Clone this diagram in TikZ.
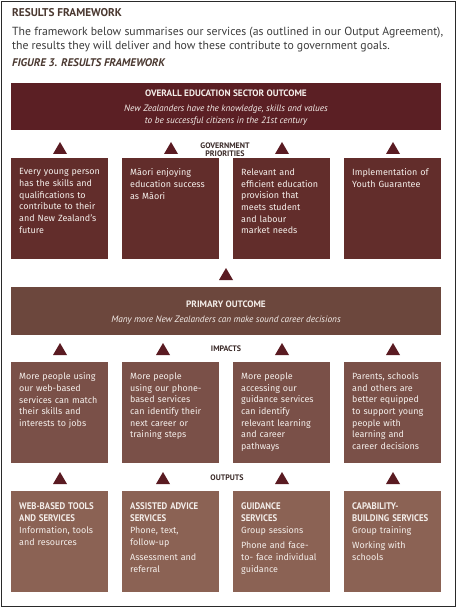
\documentclass[tikz,border=0pt]{standalone}
\usepackage{fontspec}
\setmainfont{PT Sans}
\newfontfamily\boxfont{Fira Sans}
\newfontfamily\hdfont{PT Sans}[FakeStretch=0.92]
\usetikzlibrary{calc}
\definecolor{cTop}{HTML}{5B1F24}
\definecolor{cGov}{HTML}{622D2B}
\definecolor{cPrim}{HTML}{6C473D}
\definecolor{cImp}{HTML}{7A5048}
\definecolor{cOut}{HTML}{8B6254}
\definecolor{cTri}{HTML}{5A1B22}
\definecolor{cBoxTxt}{HTML}{F4EEEA}
\definecolor{cHead}{HTML}{4A3830}
\definecolor{cBody}{HTML}{3C3C3C}
\definecolor{cLbl}{HTML}{3A2A28}
\definecolor{cFrame}{HTML}{2A2A2A}
\newcommand\uptri[2]{\fill[cTri] ($(#1,#2)+(-7,0)$) -- ($(#1,#2)+(7,0)$) -- ($(#1,#2)+(0,-12)$) -- cycle;}
\newcommand\hd[1]{{\hdfont\bfseries\fontsize{9.6}{12.3}\selectfont #1}}
\begin{document}
\begin{tikzpicture}[x=1bp,y=-1bp,
  box/.style={draw=none,inner sep=0pt,anchor=north west,minimum width=97bp,minimum height=101bp},
  wide/.style={draw=none,inner sep=0pt,anchor=north west,minimum width=430bp},
  btxt/.style={anchor=north west,inner sep=0pt,text width=100bp,align=left,text=cBoxTxt,font=\boxfont\fontsize{9}{11.7}\selectfont},
  otxt/.style={btxt,font=\boxfont\fontsize{9}{12.3}\selectfont},
  lbl/.style={inner sep=0pt,align=center,text=cLbl,font=\bfseries\fontsize{8}{8.5}\selectfont},
  ctr/.style={inner sep=0pt,anchor=base,text=cBoxTxt}]
\useasboundingbox (0,0) rectangle (457,608);
\draw[cFrame,line width=1.2bp] (1.5,1.5) rectangle (455.3,606.3);

% intro
\node[anchor=base west,inner sep=0pt,text=cHead,font=\bfseries\fontsize{11.3}{12}\selectfont] (title) at (12,17) {RESULTS FRAMEWORK};
\node[anchor=base west,inner sep=0pt,text=cBody,font=\fontsize{11.8}{14}\selectfont] (intro1) at (12,36) {The framework below summarises our services (as outlined in our Output Agreement),};
\node[anchor=base west,inner sep=0pt,text=cBody,font=\fontsize{11.8}{14}\selectfont] (intro2) at (12,50) {the results they will deliver and how these contribute to government goals.};
\node[anchor=base west,inner sep=0pt,text=cHead,font=\bfseries\itshape\fontsize{11.1}{12}\selectfont] (fig) at (12,67) {FIGURE 3. RESULTS FRAMEWORK};

% top outcome
\node[wide,fill=cTop,minimum height=47bp] (top) at (11,83) {};
\node[ctr,font=\bfseries\fontsize{9.3}{11}\selectfont] (topT) at (226,97) {OVERALL EDUCATION SECTOR OUTCOME};
\node[ctr,font=\itshape\fontsize{9.3}{11}\selectfont] (topA) at (226,112) {New Zealanders have the knowledge, skills and values};
\node[ctr,font=\itshape\fontsize{9.3}{11}\selectfont] (topB) at (226,123.5) {to be successful citizens in the 21st century};

% government priorities
\node[lbl,anchor=north] (govL) at (225,142.3) {GOVERNMENT\\PRIORITIES};
\uptri{60}{154}\uptri{171}{154}\uptri{282}{154}\uptri{393}{154}
\node[box,fill=cGov] (g1) at (11,158) {};
\node[box,fill=cGov] (g2) at (122,158) {};
\node[box,fill=cGov] (g3) at (233,158) {};
\node[box,fill=cGov] (g4) at (344,158) {};
\node[btxt] (g1t) at ($(g1.north west)+(8,10.5)$) {Every young person\\has the skills and\\qualifications to\\contribute to their\\and New Zealand’s\\future};
\node[btxt] (g2t) at ($(g2.north west)+(8,10.5)$) {Māori enjoying\\education success\\as Māori};
\node[btxt] (g3t) at ($(g3.north west)+(8,10.5)$) {Relevant and\\efficient education\\provision that\\meets student\\and labour\\market needs};
\node[btxt] (g4t) at ($(g4.north west)+(8,10.5)$) {Implementation of\\Youth Guarantee};

% primary outcome
\uptri{226}{280}
\node[wide,fill=cPrim,minimum height=48bp] (prim) at (11,287) {};
\node[ctr,font=\bfseries\fontsize{9.3}{11}\selectfont] (primT) at (226,307) {PRIMARY OUTCOME};
\node[ctr,font=\itshape\fontsize{9.3}{11}\selectfont] (primA) at (226,322) {Many more New Zealanders can make sound career decisions};

% impacts
\node[lbl,anchor=base] (impL) at (226,351.5) {IMPACTS};
\uptri{60}{355}\uptri{163}{355}\uptri{282}{355}\uptri{393}{355}
\node[box,fill=cImp] (i1) at (11,362) {};
\node[box,fill=cImp] (i2) at (122,362) {};
\node[box,fill=cImp] (i3) at (233,362) {};
\node[box,fill=cImp] (i4) at (344,362) {};
\node[btxt] (i1t) at ($(i1.north west)+(8,10.5)$) {More people using\\our web-based\\services can match\\their skills and\\interests to jobs};
\node[btxt] (i2t) at ($(i2.north west)+(8,10.5)$) {More people\\using our phone-\\based services\\can identify their\\next career or\\training steps};
\node[btxt] (i3t) at ($(i3.north west)+(8,10.5)$) {More people\\accessing our\\guidance services\\can identify\\relevant learning\\and career\\pathways};
\node[btxt] (i4t) at ($(i4.north west)+(8,10.5)$) {Parents, schools\\and others are\\better equipped\\to support young\\people with\\learning and\\career decisions};

% outputs
\node[lbl,anchor=base] (outL) at (227,480.5) {OUTPUTS};
\uptri{60}{484}\uptri{163}{484}\uptri{282}{484}\uptri{393}{484}
\node[box,fill=cOut] (o1) at (11,491) {};
\node[box,fill=cOut] (o2) at (122,491) {};
\node[box,fill=cOut] (o3) at (233,491) {};
\node[box,fill=cOut] (o4) at (344,491) {};
\node[otxt] (o1t) at ($(o1.north west)+(8,11)$) {\hd{WEB-BASED TOOLS}\\\hd{AND SERVICES}\\Information, tools\\and resources};
\node[otxt] (o2t) at ($(o2.north west)+(8,11)$) {\hd{ASSISTED ADVICE}\\\hd{SERVICES}\\Phone, text,\\follow-up\\[2.5bp]Assessment and\\referral};
\node[otxt] (o3t) at ($(o3.north west)+(8,11)$) {\hd{GUIDANCE}\\\hd{SERVICES}\\Group sessions\\[2.5bp]Phone and face-\\to- face individual\\guidance};
\node[otxt] (o4t) at ($(o4.north west)+(8,11)$) {\hd{CAPABILITY-}\\\hd{BUILDING SERVICES}\\Group training\\[2.5bp]Working with\\schools};
\end{tikzpicture}
\end{document}
